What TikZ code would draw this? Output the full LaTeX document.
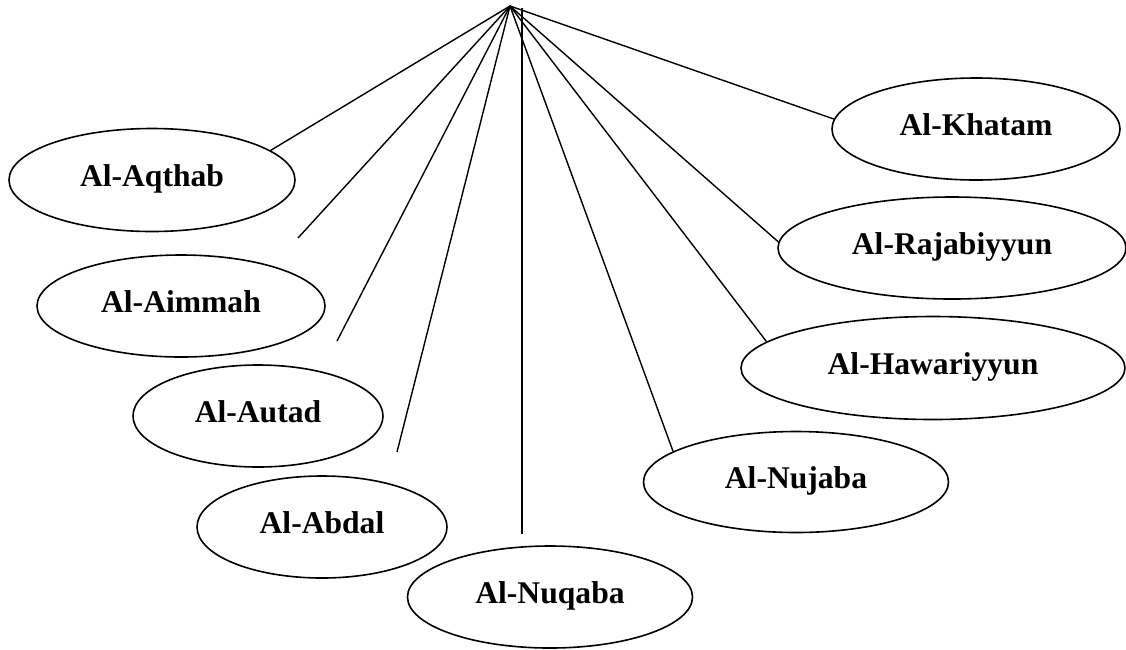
\documentclass[tikz,border=0pt]{standalone}
\usepackage{fontspec}
\setmainfont{Liberation Serif}
\usetikzlibrary{shapes.geometric}
\tikzset{
  oval/.style={ellipse, draw=black, line width=1.6pt, inner sep=0pt,
    font=\fontsize{31.6}{36}\selectfont\bfseries,
    text height=22pt, text depth=10pt},
  spoke/.style={draw=black, line width=1.4pt}
}
\begin{document}
\begin{tikzpicture}[x=1pt,y=-1pt]
\useasboundingbox[fill=white] (0,0) rectangle (1126,649);
% ellipses
\node[oval, minimum width=286pt, minimum height=103pt] (aq) at (152,180) {Al-Aqthab};
\node[oval, minimum width=288pt, minimum height=102pt] (ai) at (181,306) {Al-Aimmah};
\node[oval, minimum width=250pt, minimum height=102pt] (au) at (258,416) {Al-Autad};
\node[oval, minimum width=250pt, minimum height=102pt] (ab) at (322,527) {Al-Abdal};
\node[oval, minimum width=285pt, minimum height=102pt] (nq) at (550,597) {Al-Nuqaba};
\node[oval, minimum width=305pt, minimum height=101pt] (nj) at (796,482) {Al-Nujaba};
\node[oval, minimum width=384pt, minimum height=103pt] (ha) at (933,368) {Al-Hawariyyun};
\node[oval, minimum width=348pt, minimum height=102pt] (ra) at (952,248) {Al-Rajabiyyun};
\node[oval, minimum width=288pt, minimum height=102pt] (kh) at (976,129) {Al-Khatam};
% coordinates
\coordinate (apex) at (510,6);
\coordinate (aiEnd) at (298,238);
\coordinate (auEnd) at (337,341);
\coordinate (abEnd) at (397,452);
\coordinate (nqTop) at (522,8);
\coordinate (nqEnd) at (522,534);
% spokes
\draw[spoke] (apex) -- (aq.14);
\draw[spoke] (apex) -- (aiEnd);
\draw[spoke] (apex) -- (auEnd);
\draw[spoke] (apex) -- (abEnd);
\draw[spoke] (nqTop) -- (nqEnd);
\draw[spoke] (apex) -- (nj.166);
\draw[spoke] (apex) -- (ha.171);
\draw[spoke] (apex) -- (ra.178);
\draw[spoke] (apex) -- (kh.176);
\end{tikzpicture}
\end{document}
